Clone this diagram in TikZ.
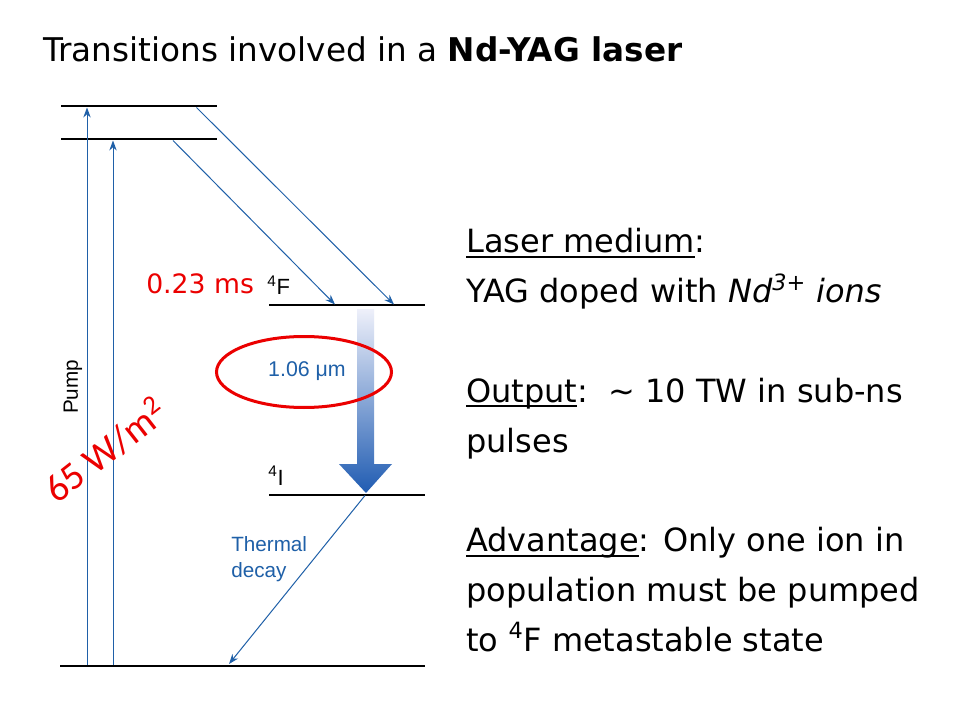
\documentclass[tikz,border=0pt]{standalone}
\usepackage{fontspec}
\setmainfont{DejaVu Sans}
\newfontfamily\arialf{Liberation Sans}
\newfontfamily\calib{Carlito}
\usetikzlibrary{arrows.meta,shapes.geometric}
\definecolor{lblue}{RGB}{31,96,168}
\definecolor{lred}{RGB}{235,0,0}
\definecolor{atop}{RGB}{238,240,250}
\definecolor{abot}{RGB}{32,92,178}
\newcommand\myul[1]{\setbox0\hbox{#1}\rlap{\rule[-4pt]{\wd0}{1.5pt}}\box0}
\begin{document}
\begin{tikzpicture}[x=0.75pt,y=-0.75pt,
  level/.style={line width=1.5pt, black},
  trans/.style={lblue, line width=0.75pt, -{Stealth[length=7.5pt,width=5.5pt]}},
  body/.style={anchor=base west, inner sep=0pt, font=\fontsize{24}{28}\selectfont},
  lab/.style={inner sep=0pt, font=\arialf\fontsize{15.5}{18}\selectfont},
  bluelab/.style={lab, text=lblue}]
\fill[white] (0,0) rectangle (960,720);
\useasboundingbox (0,0) rectangle (960,720);

% title
\node[body, font=\fontsize{24.5}{28}\selectfont] (title) at (43,62) {Transitions involved in a \textbf{Nd-YAG laser}};

% energy levels
\coordinate (l1a) at (61,106.5); \coordinate (l1b) at (217,106.5);
\coordinate (l2a) at (61,139.5); \coordinate (l2b) at (217,139.5);
\coordinate (fa) at (269,305.5); \coordinate (fb) at (425,305.5);
\coordinate (ia) at (269,495); \coordinate (ib) at (425,495);
\coordinate (ga) at (60,665.5); \coordinate (gb) at (425,665.5);
\draw[level] (l1a) -- (l1b);
\draw[level] (l2a) -- (l2b);
\draw[level] (fa) -- (fb);
\draw[level] (ia) -- (ib);
\draw[level] (ga) -- (gb);

% pump arrows
\coordinate (p1s) at (87,665); \coordinate (p1e) at (87,107.5);
\coordinate (p2s) at (113,665); \coordinate (p2e) at (113,140.5);
\draw[trans] (p1s) -- (p1e);
\draw[trans] (p2s) -- (p2e);

% non-radiative decays to 4F
\coordinate (d1s) at (196.5,107.5); \coordinate (d1e) at (394,304.5);
\coordinate (d2s) at (173,140.5); \coordinate (d2e) at (335,304.5);
\draw[trans] (d1s) -- (d1e);
\draw[trans] (d2s) -- (d2e);

% thermal decay
\coordinate (ts) at (365,495.5); \coordinate (te) at (229,664);
\draw[trans] (ts) -- (te);

% laser transition arrow
\shade[top color=atop, bottom color=abot]
  (357,309) -- (374,309) -- (374,464) -- (392,464) -- (366,493)
  -- (339,464) -- (357,464) -- cycle;

% ellipse highlight
\node[draw=lred, ellipse, line width=2.25pt, minimum width=175*0.75pt,
      minimum height=71*0.75pt, inner sep=0pt] (ell) at (304,372) {};
\node[bluelab, font=\arialf\fontsize{16}{18}\selectfont] (wl) at (307,371) {1.06 μm};

% labels
\node[lab, anchor=base west, font=\arialf\fontsize{16.5}{18}\selectfont] (lf) at (267,295) {\textsuperscript{4}F};
\node[lab, anchor=base west, font=\arialf\fontsize{16.5}{18}\selectfont] (li) at (268,485) {\textsuperscript{4}I};
\node[anchor=base west, inner sep=0pt, text=lred, font=\fontsize{20}{24}\selectfont] (tau) at (146,294) {0.23 ms};
\node[bluelab, anchor=base west, align=left] (th) at (231,551) {Thermal};
\node[bluelab, anchor=base west, align=left] (dc) at (231,577) {decay};
\node[lab, rotate=90] (pump) at (73,387) {Pump};
\node[inner sep=0pt, rotate=38, text=lred, font=\calib\fontsize{29}{32}\selectfont] (pw) at (105,450) {65 W/m\textsuperscript{2}};

% right-hand text
\node[body] (t1) at (466,253) {\myul{Laser medium}:};
\node[body] (t2) at (466,302.7) {YAG doped with \textit{Nd\textsuperscript{3+} ions}};
\node[body] (t3) at (466,402) {\myul{Output}:\ \ \textasciitilde\ 10 TW in sub-ns};
\node[body] (t4) at (466,452) {pulses};
\node[body] (t5) at (466,551.5) {\myul{Advantage}: Only one ion in};
\node[body] (t6) at (466,601) {population must be pumped};
\node[body] (t7) at (466,651) {to \textsuperscript{4}F metastable state};
\end{tikzpicture}
\end{document}
